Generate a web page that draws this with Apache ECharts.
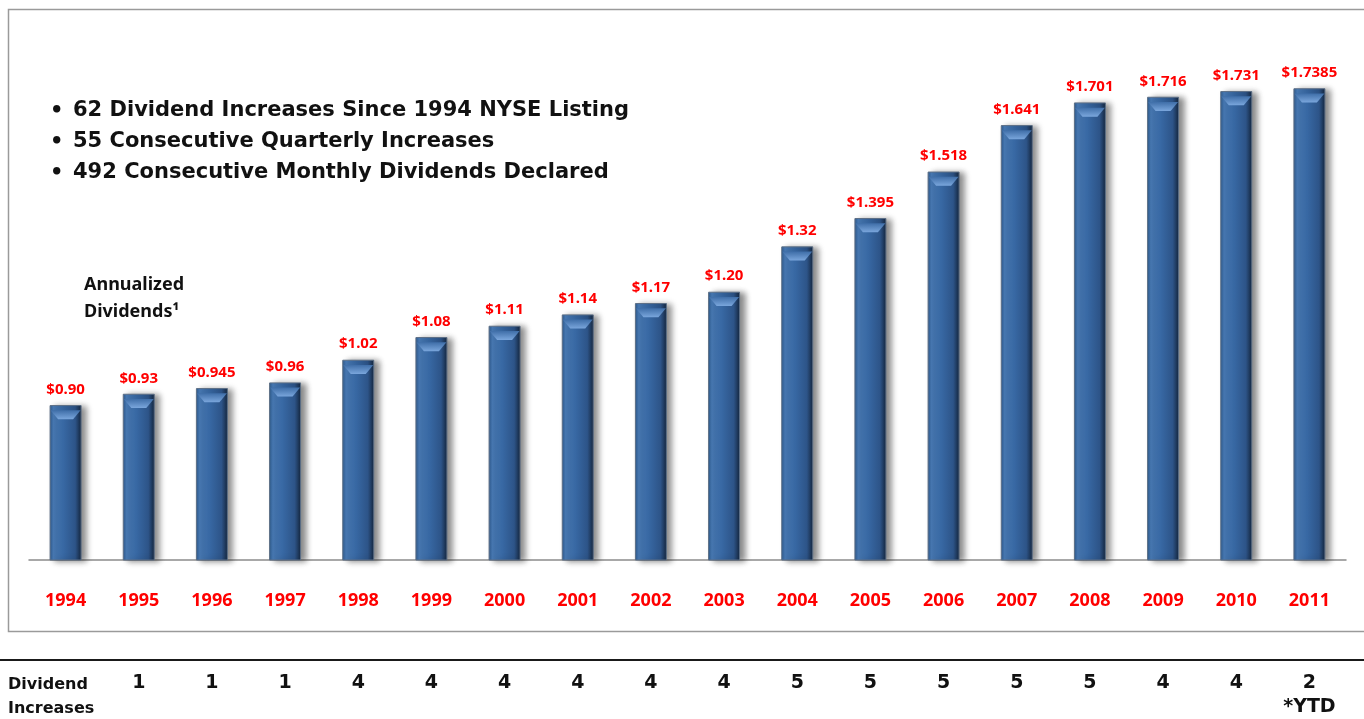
<!DOCTYPE html>
<html>
<head>
<meta charset="utf-8">
<title>Annualized Dividends</title>
<script src="https://cdn.jsdelivr.net/npm/echarts@6/dist/echarts.min.js"></script>
<style>
    html, body { margin: 0; padding: 0; background: #fff; }
    #main { width: 1364px; height: 719px; }
</style>
</head>
<body>
<div id="main"></div>
<script type="text/javascript">
    // data
    var years = ['1994','1995','1996','1997','1998','1999','2000','2001','2002','2003',
                 '2004','2005','2006','2007','2008','2009','2010','2011'];
    var dividends = [0.90, 0.93, 0.945, 0.96, 1.02, 1.08, 1.11, 1.14, 1.17, 1.20,
                     1.32, 1.395, 1.518, 1.641, 1.701, 1.716, 1.731, 1.7385];
    var dividendLabels = ['$0.90','$0.93','$0.945','$0.96','$1.02','$1.08','$1.11','$1.14','$1.17','$1.20',
                          '$1.32','$1.395','$1.518','$1.641','$1.701','$1.716','$1.731','$1.7385'];
    // increases per year, 1994 has none shown
    var increases = ['', '1','1','1','4','4','4','4','4','4','5','5','5','5','5','4','4','2\n*YTD'];
    var bullets = [
        '62 Dividend Increases Since 1994 NYSE Listing',
        '55 Consecutive Quarterly Increases',
        '492 Consecutive Monthly Dividends Declared'
    ];

    var myChart = echarts.init(document.getElementById('main'));

    var barColor = new echarts.graphic.LinearGradient(0, 0, 1, 0, [
        {offset: 0, color: '#2b5688'},
        {offset: 0.12, color: '#4a7db9'},
        {offset: 0.45, color: '#3767a2'},
        {offset: 0.8, color: '#2d5488'},
        {offset: 1, color: '#14253c'}
    ]);

    var bulletTexts = [];
    bullets.forEach(function (t, i) {
        bulletTexts.push({
            type: 'text', left: 50, top: 101 + i * 31,
            style: {text: '\u2022', font: 'bold 21px "DejaVu Sans"', fill: '#111'}
        });
        bulletTexts.push({
            type: 'text', left: 73, top: 100 + i * 31,
            style: {text: t, font: 'bold 21px "DejaVu Sans"', fill: '#111'}
        });
    });

    myChart.setOption({
        animation: false,
        grid: {
            left: 29,
            right: 18,
            top: 65,
            bottom: 156
        },
        xAxis: [
            {
                type: 'category',
                data: years,
                axisLine: {lineStyle: {color: '#8c8c8c', width: 1.5}},
                axisTick: {show: false},
                axisLabel: {
                    margin: 32,
                    color: '#ff0000',
                    fontWeight: 'bold',
                    fontSize: 18,
                    fontFamily: 'Noto Sans'
                }
            },
            {
                type: 'category',
                data: years,
                position: 'bottom',
                offset: 111,
                axisLine: {show: false},
                axisTick: {show: false},
                axisLabel: {
                    margin: 0,
                    color: '#111',
                    fontWeight: 'bold',
                    fontSize: 19,
                    fontFamily: 'DejaVu Sans',
                    lineHeight: 24,
                    verticalAlign: 'top',
                    formatter: function (v, idx) { return increases[idx]; }
                }
            }
        ],
        yAxis: {
            type: 'value',
            min: 0.49,
            max: 1.8,
            show: false,
            splitLine: {show: false}
        },
        series: [
            {
                type: 'bar',
                data: dividends,
                barWidth: 32,
                itemStyle: {
                    color: barColor,
                    borderColor: '#5d6f86',
                    borderWidth: 1,
                    shadowColor: 'rgba(0,0,0,0.45)',
                    shadowBlur: 6,
                    shadowOffsetX: 5,
                    shadowOffsetY: 1
                },
                label: {
                    show: true,
                    position: 'top',
                    distance: 8,
                    color: '#ff0000',
                    fontWeight: 'bold',
                    fontSize: 15,
                    fontFamily: 'Noto Sans',
                    formatter: function (p) { return dividendLabels[p.dataIndex]; }
                }
            },
            {
                // bevel highlight on top of each bar
                type: 'pictorialBar',
                data: dividends,
                symbol: 'path://M0,0 L32,0 L24,9 L8,9 Z',
                symbolSize: [30, 9],
                symbolPosition: 'end',
                symbolOffset: [0, '58%'],
                z: 3,
                silent: true,
                itemStyle: {
                    color: new echarts.graphic.LinearGradient(0, 0, 0, 1, [
                        {offset: 0, color: '#3f6ea8'},
                        {offset: 1, color: '#7aa6dc'}
                    ])
                }
            }
        ],
        graphic: [
            {
                type: 'rect',
                shape: {x: 8.5, y: 9.5, width: 1362, height: 622},
                style: {fill: 'none', stroke: '#9a9a9a', lineWidth: 1.5},
                z: -1
            },
            {
                type: 'line',
                shape: {x1: 0, y1: 660, x2: 1364, y2: 660},
                style: {stroke: '#1a1a1a', lineWidth: 2}
            },
            {
                type: 'text',
                left: 8,
                top: 673,
                style: {
                    text: 'Dividend\nIncreases',
                    font: 'bold 16px "DejaVu Sans"',
                    lineHeight: 24,
                    fill: '#111'
                }
            },
            {
                type: 'text',
                left: 84,
                top: 271,
                style: {
                    text: 'Annualized\nDividends\u00b9',
                    font: 'bold 18px "Noto Sans"',
                    lineHeight: 27,
                    fill: '#111'
                }
            }
        ].concat(bulletTexts)
    });
</script>
</body>
</html>
